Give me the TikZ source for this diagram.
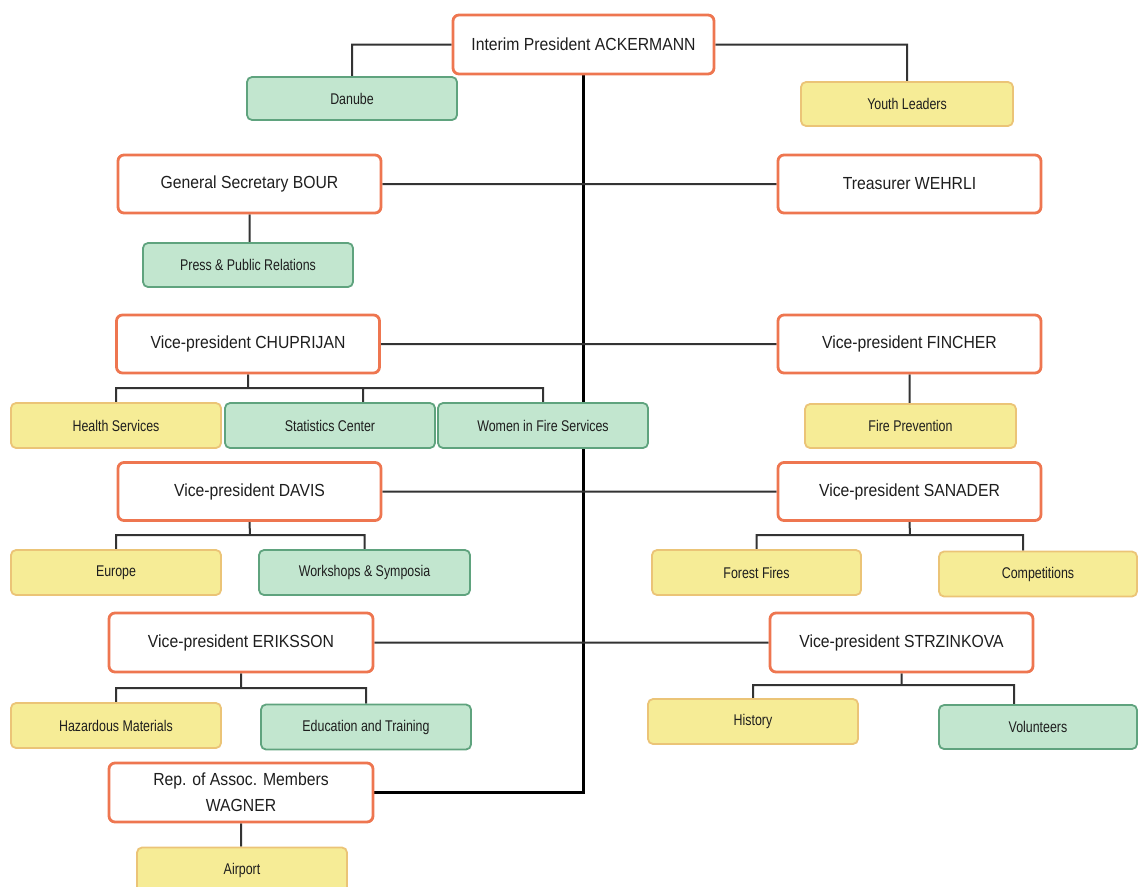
\documentclass[tikz,border=0pt]{standalone}
\usepackage{fontspec}
\setmainfont{Liberation Sans}
\newfontfamily\headfont[FakeStretch=0.9]{Liberation Sans}
\newfontfamily\unitfont[FakeStretch=0.8]{Liberation Sans}
\usetikzlibrary{backgrounds}
\definecolor{headline}{HTML}{EE7650}
\definecolor{unitgreen}{HTML}{C2E6CF}
\definecolor{unitgreenline}{HTML}{5FA37E}
\definecolor{unityellow}{HTML}{F6EC96}
\definecolor{unityellowline}{HTML}{EBC477}
\definecolor{linkgray}{HTML}{333333}
\definecolor{textgray}{HTML}{1E1E1E}

\begin{document}
\begin{tikzpicture}[x=1pt,y=-1pt,
    link/.style={draw=linkgray,line width=2pt},
    trunk/.style={draw=black,line width=3pt},
    head node/.style={rectangle,rounded corners=6pt,draw=headline,line width=2.8pt,fill=white,minimum width=263pt,minimum height=58pt,inner sep=2pt,align=center,text=textgray,font=\headfont\fontsize{17.5}{26}\selectfont},
    unit node/.style={rectangle,rounded corners=5pt,line width=1.8pt,minimum width=210pt,minimum height=45pt,inner sep=2pt,text=textgray,font=\unitfont\fontsize{15.5}{18}\selectfont},
    green node/.style={unit node,draw=unitgreenline,fill=unitgreen},
    yellow node/.style={unit node,draw=unityellowline,fill=unityellow}]

  \useasboundingbox (0,0) rectangle (1139,886);
  \clip (0,0) rectangle (1139,886);

  \node[head node,minimum width=261pt,minimum height=59pt] (pres) at (583.5,44.5) {Interim President ACKERMANN};
  \node[green node,minimum height=43pt]  (danube) at (352,98.5)  {Danube};
  \node[yellow node,minimum width=212pt,minimum height=44pt] (youth) at (907,104) {Youth Leaders};

  \node[head node]  (bour)  at (249.5,184) {General Secretary BOUR};
  \node[head node]  (treas) at (909.5,184) {Treasurer WEHRLI};
  \node[green node,minimum height=44pt] (press) at (248,265) {Press \& Public Relations};

  \node[head node]  (chup)  at (248,344)     {Vice-president CHUPRIJAN};
  \node[head node]  (finch) at (909.5,344)   {Vice-president FINCHER};
  \node[yellow node] (health) at (116,425.5) {Health Services};
  \node[green node]  (stats)  at (330,425.5) {Statistics Center};
  \node[green node]  (women)  at (543,425.5) {Women in Fire Services};
  \node[yellow node,minimum width=211pt,minimum height=44pt] (firep) at (910.5,426) {Fire Prevention};

  \node[head node]  (davis) at (249.5,491.5) {Vice-president DAVIS};
  \node[head node]  (sanad) at (909.5,491.5) {Vice-president SANADER};
  \node[yellow node] (europe) at (116,572.5)   {Europe};
  \node[green node,minimum width=211pt]  (works)  at (364.5,572.5) {Workshops \& Symposia};
  \node[yellow node,minimum width=209pt] (forest) at (756.5,572.5) {Forest Fires};
  \node[yellow node,minimum width=198pt] (compet) at (1038,574)    {Competitions};

  \node[head node,minimum width=264pt,minimum height=59pt] (eriks) at (241,642.5)   {Vice-president ERIKSSON};
  \node[head node,minimum width=263pt,minimum height=59pt] (strz)  at (901.5,642.5) {Vice-president STRZINKOVA};
  \node[yellow node] (hazard)  at (116,725.5) {Hazardous Materials};
  \node[green node]  (educ)    at (366,727)   {Education and Training};
  \node[yellow node] (history) at (753,721.5) {History};
  \node[green node,minimum width=198pt,minimum height=44pt] (volunt) at (1038,727) {Volunteers};

  \node[head node,minimum width=264pt,minimum height=59pt] (wagner) at (241,792.5) {Rep. of Assoc. Members\\WAGNER};
  \node[yellow node] (airport) at (242,870) {Airport};

  \coordinate (chupbus)  at (248,388);
  \coordinate (davisbus) at (250,535);
  \coordinate (sanadbus) at (910,535);
  \coordinate (erikbus)  at (241,688);
  \coordinate (strzbus)  at (901.5,685);
  \coordinate (statsdrop)  at ([xshift=33pt]stats.north);
  \coordinate (competdrop) at ([xshift=-15pt]compet.north);
  \coordinate (voluntdrop) at ([xshift=-24pt]volunt.north);

  \begin{scope}[on background layer]
    \path[trunk] (pres.south) |- (wagner.east);
    \path[link] (pres.west) -| (danube.north)
          (pres.east) -| (youth.north)
          (bour.east) -- (treas.west)
          (bour.south) -- (bour.south |- press.north)
          (chup.east) -- (finch.west)
          (chup.south) -- (chupbus)
          (health.north) |- (chupbus) -| (women.north)
          (statsdrop) -- (statsdrop |- chupbus)
          (finch.south) -- (finch.south |- firep.north)
          (davis.east) -- (sanad.west)
          (davis.south) -- (davisbus)
          (europe.north) |- (davisbus) -| (works.north)
          (sanad.south) -- (sanadbus)
          (forest.north) |- (sanadbus) -| (competdrop)
          (eriks.east) -- (strz.west)
          (eriks.south) -- (erikbus)
          (hazard.north) |- (erikbus) -| (educ.north)
          (strz.south) -- (strzbus)
          (history.north) |- (strzbus) -| (voluntdrop)
          (wagner.south) -- (wagner.south |- airport.north)
          ;
  \end{scope}
\end{tikzpicture}
\end{document}
